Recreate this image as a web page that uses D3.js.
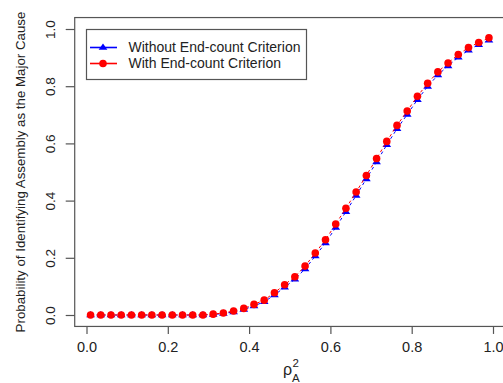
<!DOCTYPE html>
<html>
<head>
<meta charset="utf-8">
<script src="https://cdn.jsdelivr.net/npm/d3@7"></script>
<style>
  html, body { margin: 0; padding: 0; background: #fff; }
  svg { display: block; font-family: "Liberation Sans", Arial, sans-serif; }
</style>
</head>
<body>
<svg id="chart" width="503" height="383"></svg>
<script>
// ---- data ----
const rho2 = d3.range(40).map(i => 0.01 + i * (0.98 / 39));
const withoutEndCount = [0,0,0,0,0,0,0,0,0,0,0,0,
  0.002,0.005,0.011,0.019,0.032,0.046,0.070,0.097,0.125,0.161,0.206,0.252,
  0.306,0.361,0.418,0.476,0.535,0.595,0.651,0.701,0.753,0.799,0.839,0.871,
  0.901,0.926,0.945,0.961];
const withEndCount = [0,0,0,0,0,0,0,0,0,0,0,0,
  0.003,0.007,0.014,0.023,0.037,0.052,0.078,0.106,0.134,0.171,0.217,0.263,
  0.318,0.373,0.430,0.488,0.547,0.607,0.663,0.713,0.765,0.810,0.850,0.881,
  0.911,0.935,0.953,0.969];
const xTicks = [0, 0.2, 0.4, 0.6, 0.8, 1.0];
const yTicks = [0, 0.2, 0.4, 0.6, 0.8, 1.0];
const seriesNames = ["Without End-count Criterion", "With End-count Criterion"];
const seriesColors = ["#0000ff", "#ff0000"];
const yTitle = "Probability of Identifying Assembly as the Major Cause";

// ---- layout ----
const svg = d3.select("#chart");
const x = d3.scaleLinear().domain([0, 1]).range([86.5, 493]);
const y = d3.scaleLinear().domain([0, 1]).range([315, 29]);
const axisColor = "#555";
const textColor = "#222";
const R = 3.8;

// plot box
svg.append("rect")
  .attr("x", x(-0.029)).attr("y", y(1.04))
  .attr("width", x(1.029) - x(-0.029)).attr("height", y(-0.04) - y(1.04))
  .attr("fill", "none").attr("stroke", axisColor).attr("stroke-width", 1.2);

// x axis
const gx = svg.append("g")
  .attr("transform", `translate(0,${y(-0.04) + 0.5})`)
  .call(d3.axisBottom(x).tickValues(xTicks).tickSize(7).tickPadding(8).tickFormat(d3.format(".1f")));
gx.select(".domain").remove();
gx.selectAll("line").attr("stroke", axisColor).attr("stroke-width", 1.2);
gx.selectAll("text").attr("fill", textColor).attr("font-size", "14.5px")
  .attr("font-family", "Liberation Sans, Arial, sans-serif");

// y axis
const gy = svg.append("g")
  .attr("transform", `translate(${x(-0.029)},0)`)
  .call(d3.axisLeft(y).tickValues(yTicks).tickSize(9).tickFormat(d3.format(".1f")));
gy.select(".domain").remove();
gy.selectAll("line").attr("stroke", axisColor).attr("stroke-width", 1.2);
gy.selectAll("text")
  .attr("fill", textColor).attr("font-size", "13.5px")
  .attr("font-family", "Liberation Sans, Arial, sans-serif")
  .attr("x", null).attr("dy", null)
  .attr("text-anchor", "middle")
  .attr("transform", "translate(-24.5,0) rotate(-90)")
  .attr("y", 0)
  .attr("dy", "0.35em");

// y title
svg.append("text")
  .attr("transform", `translate(20,${(y(1.04) + y(-0.04)) / 2}) rotate(-90)`)
  .attr("text-anchor", "middle").attr("dy", "0.35em")
  .attr("fill", textColor).attr("font-size", "13.3px")
  .text(yTitle);

// x title: rho^2_A
const xt = svg.append("g").attr("fill", textColor);
xt.append("text").attr("x", 292).attr("y", 375).attr("text-anchor", "end")
  .attr("font-size", "16px").text("ρ");
xt.append("text").attr("x", 292.5).attr("y", 366.5).attr("font-size", "11.5px").text("2");
xt.append("text").attr("x", 292).attr("y", 382).attr("font-size", "11.5px").text("A");

// series
const line = d3.line().x((d, i) => x(rho2[i])).y(d => y(d));
const triPath = (cx, cy) => `M${cx},${cy - R * 1.05} L${cx + R * 1.15},${cy + R * 0.6} L${cx - R * 1.15},${cy + R * 0.6}Z`;

// blue
svg.append("path").datum(withoutEndCount)
  .attr("d", line).attr("fill", "none").attr("stroke", seriesColors[0])
  .attr("stroke-width", 1).attr("stroke-dasharray", "3,3");
svg.append("g").selectAll("path").data(withoutEndCount).join("path")
  .attr("d", (d, i) => triPath(x(rho2[i]), y(d)))
  .attr("fill", seriesColors[0]);

// red
svg.append("path").datum(withEndCount)
  .attr("d", line).attr("fill", "none").attr("stroke", seriesColors[1])
  .attr("stroke-width", 1).attr("stroke-dasharray", "3,3");
svg.append("g").selectAll("circle").data(withEndCount).join("circle")
  .attr("cx", (d, i) => x(rho2[i])).attr("cy", d => y(d)).attr("r", R)
  .attr("fill", seriesColors[1]);

// legend
const lg = svg.append("g");
lg.append("rect").attr("x", 86.5).attr("y", 29.5).attr("width", 220).attr("height", 50)
  .attr("fill", "#fff").attr("stroke", axisColor).attr("stroke-width", 1.2);
seriesNames.forEach((name, k) => {
  const cy = 47.5 + k * 16;
  lg.append("line").attr("x1", 90).attr("x2", 117).attr("y1", cy).attr("y2", cy)
    .attr("stroke", seriesColors[k]).attr("stroke-width", 1.6);
  if (k === 0) {
    lg.append("path").attr("d", triPath(103, cy)).attr("fill", seriesColors[k]);
  } else {
    lg.append("circle").attr("cx", 103).attr("cy", cy).attr("r", R).attr("fill", seriesColors[k]);
  }
  lg.append("text").attr("x", 128.5).attr("y", cy).attr("dy", "0.35em")
    .attr("fill", textColor).attr("font-size", "14px").text(name);
});
</script>
</body>
</html>
